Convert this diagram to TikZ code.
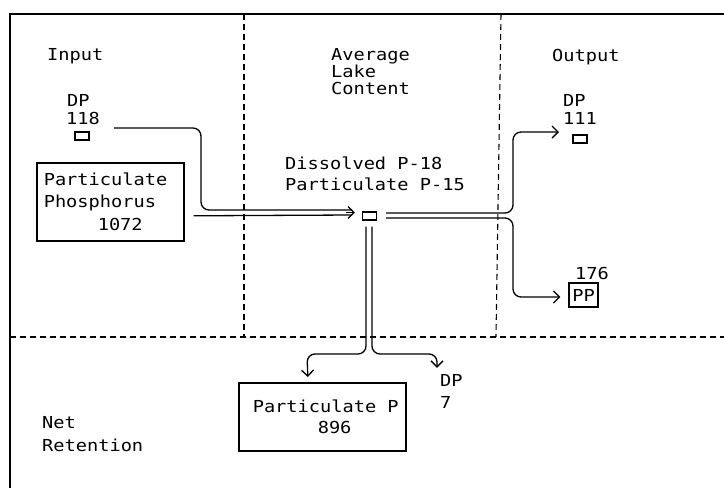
\documentclass[tikz,border=0pt]{standalone}
\usepackage{fontspec}
\setmonofont[FakeStretch=1.13]{DejaVu Sans Mono}
\usetikzlibrary{arrows.meta,calc}
\begin{document}
\begin{tikzpicture}[x=1pt,y=-1pt,
  every node/.style={font=\ttfamily\fontsize{16.5}{22.5}\selectfont},
  txt/.style={anchor=base west, inner sep=0pt},
  frame/.style={line width=1.6pt},
  divider/.style={line width=1.1pt, dash pattern=on 6pt off 4pt},
  conn/.style={line width=1.3pt, rounded corners=8pt},
  tip/.style={-{Straight Barb[length=6pt,width=12pt]}},
  smallbox/.style={draw, line width=1.1pt, minimum width=14pt, minimum height=8pt, inner sep=0pt},
  box/.style={draw, line width=1.6pt, align=left, inner ysep=0pt}]
\useasboundingbox (0,0) rectangle (724,488);
% frame and dividers
\draw[frame] (10,488) -- (10,14) -- (724,14);
\draw[divider] (244,14) -- (244,337);
\draw[divider] (501,14) -- (496,337);
\draw[divider] (10,337) -- (724,337);
% input column
\node[txt] (input) at (47,60) {Input};
\node[txt] (dpin) at (67,106) {DP};
\node[txt] (n118) at (66,124) {118};
\node[smallbox] (dpinbox) at (82,136) {};
\node[box, anchor=north west, inner xsep=7pt, text width=133pt, minimum height=78pt] (phos) at (36,162)
  {Particulate\\Phosphorus\\\hspace*{54pt}1072};
% lake column
\node[txt] (avg) at (331,60) {Average};
\node[txt] (lakel) at (331,77) {Lake};
\node[txt] (cont) at (331,94) {Content};
\node[txt] (diss) at (285,169) {Dissolved P-18};
\node[txt] (partc) at (285,190) {Particulate P-15};
\node[smallbox] (lake) at (369.5,216) {};
% output column
\node[txt] (output) at (552,61) {Output};
\node[txt] (dpout) at (563,106) {DP};
\node[txt] (n111) at (563,124) {111};
\node[smallbox] (dpoutbox) at (580,139) {};
\node[txt] (n176) at (575,279) {176};
\node[draw, line width=1.3pt, minimum width=29pt, minimum height=24pt, inner sep=1pt] (pp) at (583.5,295) {PP};
% retention
\node[box, anchor=north west, inner xsep=2pt, text width=163pt, minimum height=68pt] (ret) at (238,382)
  {\hspace*{12pt}Particulate\hspace{11.2pt}P\\[-1.5pt]\hspace*{77pt}896};
\node[txt] (dp7) at (440,386) {DP};
\node[txt] (n7) at (440,408) {7};
\node[txt] (net) at (42,428) {Net};
\node[txt] (retl) at (42,451) {Retention};
% connectors: inputs
\coordinate (dpinA) at ($(n118.base east)+(14,4)$);
\draw[conn] (dpinA) -- (201,128) -- (201,210) -- (352,210);
\draw[conn] ($(phos.east)+(9,14)$) -- (352,215);
\draw[conn, tip] (346,212.5) -- ($(lake.west)+(-7,-3.5)$);
% outputs
\draw[conn, tip] ($(lake.east)+(9,-3)$) -- (513,213) -- (513,132) -- ($(n111.base west)+(-4,8)$);
\draw[conn, tip] ($(lake.east)+(9,2)$) -- (513,218) -- (513,297) -- ($(pp.west)+(-8,2)$);
% retention
\draw[conn, tip] ($(lake.south)+(-3.5,6)$) -- (366,354) -- (307,354) -- ($(ret.north)+(-14.5,-5)$);
\draw[conn, tip] ($(lake.south)+(2.5,6)$) -- (372,354) -- (437,354) -- ($(dp7.north west)+(-3,-6)$);
\end{tikzpicture}
\end{document}
